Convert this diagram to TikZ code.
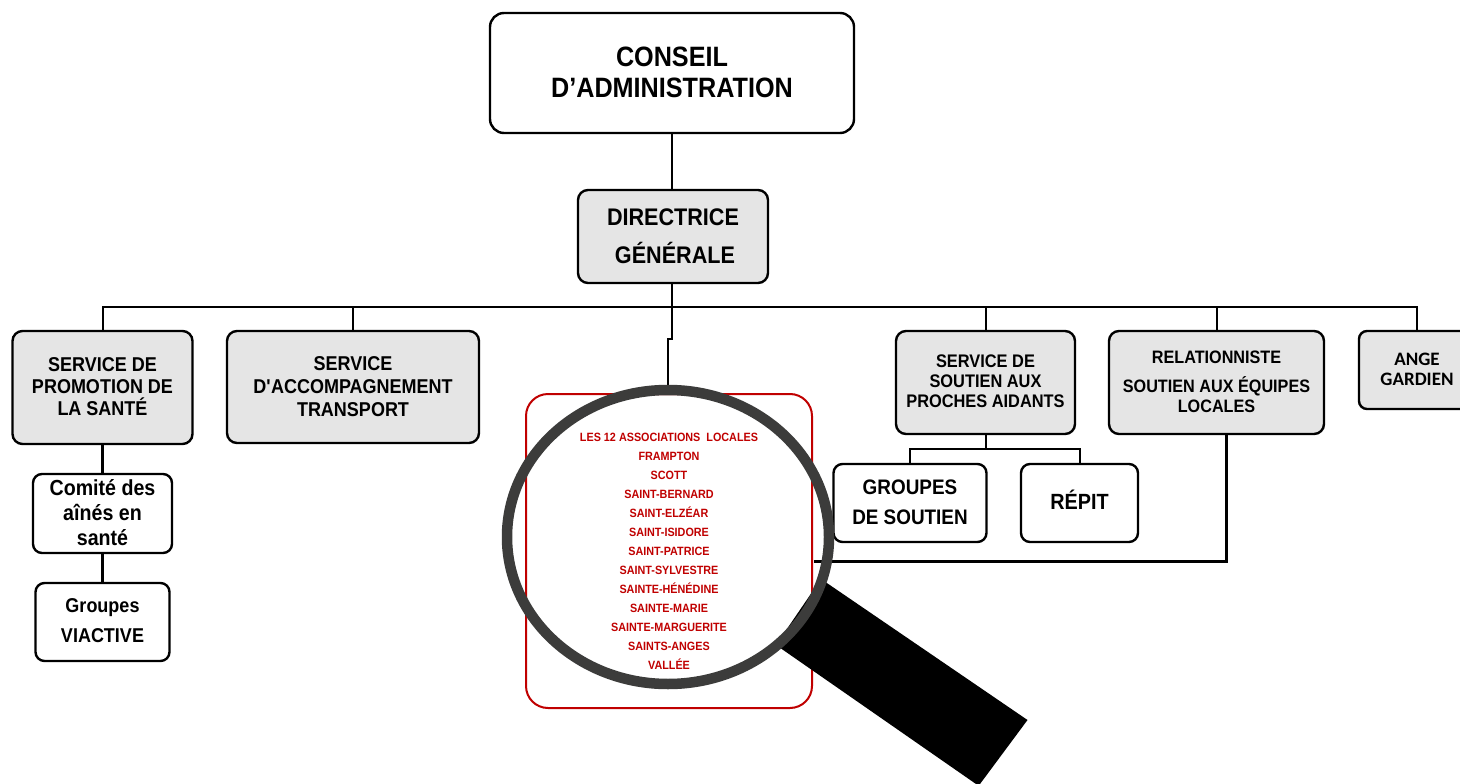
\documentclass[tikz,border=0pt]{standalone}
\usepackage{fontspec}
\setmainfont{Liberation Sans}[FakeStretch=0.9]
\newfontfamily\calfont{Carlito}
\usetikzlibrary{shapes.geometric}
\definecolor{boxgray}{HTML}{E5E5E5}
\definecolor{ringgray}{HTML}{3C3C3B}
\definecolor{listred}{HTML}{C00000}
\tikzset{
  box/.style={draw=black,line width=2.4pt,rounded corners=#1,align=center,inner sep=0pt,outer sep=0pt,font=\bfseries},
  box/.default=9pt,
  graybox/.style={box=#1,fill=boxgray},
  graybox/.default=9pt,
  link/.style={draw=black,line width=2pt,line join=miter},
  thicklink/.style={draw=black,line width=3pt,line join=miter},
}
\newcommand{\fs}[2]{\fontsize{#1pt}{#2pt}\selectfont}
\begin{document}
\begin{tikzpicture}[x=1pt,y=-1pt]
\useasboundingbox (0,0) rectangle (1460,784);
\fill[white] (0,0) rectangle (1460,784);
\coordinate (busL) at (102.5,307);
\coordinate (busM) at (672,307);
\coordinate (busS) at (985.5,307);
\coordinate (busE) at (1216.5,307);
\coordinate (busR) at (1417,307);
\coordinate (jogA) at (672,339);
\coordinate (jogB) at (668,339);
\coordinate (relDrop) at (1226,434);
\coordinate (relBend) at (1226,561);
\coordinate (lensIn) at (814,561);
\coordinate (subL) at (910,449);
\coordinate (subM) at (985.5,449);
\coordinate (subR) at (1079.5,449);

\node[box=14pt,minimum width=364pt,minimum height=120pt,text depth=1pt,font=\bfseries\fs{28}{31}] (ca) at (672,73) {CONSEIL\\D’ADMINISTRATION};
\node[graybox=10pt,minimum width=190pt,minimum height=93pt,font=\bfseries\fs{24}{38}] (dg) at (673,236.5) {DIRECTRICE\\\hspace*{4pt}GÉNÉRALE};
\node[graybox=10pt,minimum width=180pt,minimum height=113pt,text depth=1pt,font=\bfseries\fs{20}{22}] (sp) at (102.5,387.5) {SERVICE DE\\PROMOTION DE\\LA SANTÉ};
\node[graybox=10pt,minimum width=252pt,minimum height=112pt,font=\bfseries\fs{20}{23}] (sa) at (353,387) {SERVICE\\D\textquotesingle ACCOMPAGNEMENT\\TRANSPORT};
\node[graybox=10pt,minimum width=179pt,minimum height=103pt,text depth=3pt,font=\bfseries\fs{18.2}{20}] (ssp) at (985.5,382.5) {SERVICE DE\\SOUTIEN AUX\\PROCHES AIDANTS};
\node[graybox=10pt,minimum width=215pt,minimum height=103pt,text depth=2pt,font=\bfseries\fs{18}{20}] (rel) at (1216.5,382.5) {RELATIONNISTE\\[9pt]SOUTIEN AUX ÉQUIPES\\LOCALES};
\node[graybox=8pt,minimum width=116pt,minimum height=78pt,text depth=2pt,font=\calfont\bfseries\fs{19}{20}] (ag) at (1417,370) {ANGE\\GARDIEN};
\node[box=9pt,minimum width=139pt,minimum height=79pt,text depth=2pt,font=\bfseries\fs{21.8}{25}] (cm) at (102.5,513.5) {Comité des\\aînés en\\santé};
\node[box=9pt,minimum width=134pt,minimum height=78pt,text depth=2pt,font=\bfseries\fs{20}{30}] (gv) at (102.5,622) {Groupes\\VIACTIVE};
\node[box=9pt,minimum width=153pt,minimum height=78pt,text depth=2pt,font=\bfseries\fs{21}{30}] (gs) at (910,503) {GROUPES\\DE SOUTIEN};
\node[box=9pt,minimum width=117pt,minimum height=78pt,text depth=6pt,font=\bfseries\fs{22}{26}] (rp) at (1079.5,503) {RÉPIT};
\node[draw=listred,line width=2pt,rounded corners=22pt,minimum width=286pt,minimum height=314pt,align=center,inner sep=0pt,outer sep=0pt,text=listred,font=\bfseries\fs{12}{19}] (list) at (669,551) {LES 12 ASSOCIATIONS\ \ LOCALES\\FRAMPTON\\SCOTT\\SAINT-BERNARD\\SAINT-ELZÉAR\\SAINT-ISIDORE\\SAINT-PATRICE\\SAINT-SYLVESTRE\\SAINTE-HÉNÉDINE\\SAINTE-MARIE\\SAINTE-MARGUERITE\\SAINTS-ANGES\\VALLÉE};

\draw[link] (ca.south) -- (ca.south |- dg.north);
\draw[link] (busM |- dg.south) -- (busM);
\draw[link] (sp.north) -- (busL) -- (busR) -- (ag.north);
\draw[link] (busM) -- (jogA) -- (jogB) -- (668,388);
\draw[link] (sa.north) -- (sa.north |- busM);
\draw[link] (ssp.north) -- (busS);
\draw[link] (rel.north) -- (busE);
\draw[thicklink] (sp.south) -- (cm.north);
\draw[thicklink] (cm.south) -- (gv.north);
\draw[link] (ssp.south) -- (subM);
\draw[link] (gs.north) -- (subL) -- (subR) -- (rp.north);
\draw[thicklink] (relDrop) -- (relBend) -- (lensIn);

\fill[black] (821,579) -- (1027.5,720) -- (980,784) -- (976,784) -- (776,645) -- cycle;
\node[ellipse,draw=ringgray,line width=10.5pt,minimum width=322pt,minimum height=294pt,inner sep=0pt] (lens) at (668,537) {};
\end{tikzpicture}
\end{document}
